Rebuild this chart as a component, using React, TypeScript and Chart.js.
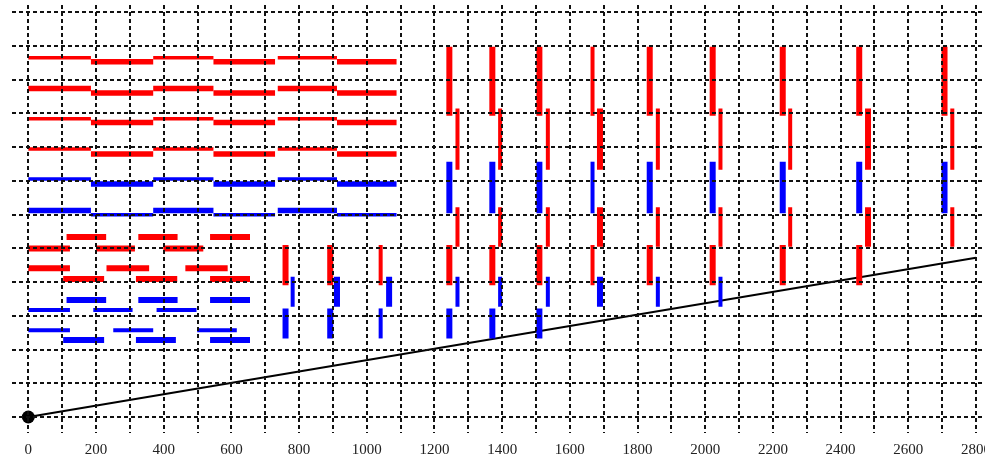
import React, { useEffect, useRef } from "react";
import { Chart, registerables } from "chart.js";

Chart.register(...registerables);

// ---------------- data ----------------
const xGridValues = [0, 100, 200, 300, 400, 500, 600, 700, 800, 900, 1000, 1100, 1200, 1300, 1400, 1500, 1600, 1700, 1800, 1900, 2000, 2100, 2200, 2300, 2400, 2500, 2600, 2700, 2800];
const yGridValues = [0, 1, 2, 3, 4, 5, 6, 7, 8, 9, 10, 11, 12];

// stepped rows (left block)
const stepHighSpans = [[0, 185], [369, 547], [737, 912]];
const stepLowSpans = [[185, 369], [547, 729], [912, 1088]];
const redStepHigh = [10.65, 9.74, 8.84, 7.95];
const redStepLow = [10.53, 9.61, 8.73, 7.8];
const blueStepHigh = [7.06, 6.12];
const blueStepLow = [6.91, 6.0];

// pulse rows (lower left)
const redPulseRows = [5.34, 5.0, 4.41, 4.09];
const redPulseSpans = [
  [[113, 230], [325, 441], [537, 655]],
  [[0, 123], [200, 315], [399, 517]],
  [[0, 123], [231, 357], [464, 589]],
  [[103, 224], [318, 440], [537, 655]],
];
const bluePulseRows = [3.47, 3.17, 2.57, 2.28];
const bluePulseSpans = [
  [[113, 230], [325, 441], [537, 655]],
  [[0, 123], [192, 308], [379, 497]],
  [[0, 123], [251, 369], [499, 616]],
  [[103, 224], [318, 436], [537, 655]],
];

// vertical bars: levels [from, to] and x positions
const barA = [8.93, 10.98];
const barB = [7.33, 9.15];
const barC = [6.04, 7.57];
const barD = [5.05, 6.22];
const barE = [3.91, 5.1];
const barF = [3.27, 4.16];
const barG = [2.33, 3.22];
const barAX = [1244, 1371, 1510, 1667, 1836, 2022, 2229, 2455, 2707];
const barBX = [1268, 1394, 1535, 1689, 1860, 2045, 2251, 2481, 2730];
const barCX = [1244, 1371, 1510, 1667, 1836, 2022, 2229, 2455, 2707];
const barDX = [1268, 1394, 1535, 1689, 1860, 2045, 2251, 2481, 2730];
const barEX = [760, 892, 1041, 1244, 1371, 1510, 1667, 1836, 2022, 2229, 2455];
const barFX = [781, 912, 1066, 1268, 1394, 1535, 1689, 1860, 2045];
const barGX = [760, 892, 1041, 1244, 1371, 1510];

// ramp line
const rampX = [0, 2800];
const rampY = [0, 4.72];

// ---------------- styles ----------------
const RED = "#ff0000";
const BLUE = "#0000ff";
const STEP_THIN = 3.5;
const STEP_THICK = 5.5;
const PULSE_THICK = 6;
const PULSE_THIN = 4;
const BAR_THICK = 6;
const BAR_THIN = 4;
// style lookups
const redStepWidths = [[STEP_THIN, STEP_THICK], [STEP_THICK, STEP_THICK], [STEP_THIN, STEP_THICK], [STEP_THIN, STEP_THICK]];
const blueStepWidths = [[STEP_THIN, STEP_THICK], [STEP_THICK, STEP_THIN]];
const bluePulseWidths = [PULSE_THICK, PULSE_THIN, PULSE_THIN, PULSE_THICK];
const thinLeftBars = [1041, 1667];
const thickRightBars = [912, 1066, 1689, 2481];

type P = { x: number; y: number | null };

function hPoints(spans: number[][], y: number): P[] {
  const out: P[] = [];
  spans.forEach(([a, b]) => {
    out.push({ x: a, y }, { x: b, y }, { x: b, y: null });
  });
  return out;
}

function vPoints(xs: number[], lv: number[]): P[] {
  const out: P[] = [];
  xs.forEach((x) => {
    out.push({ x, y: lv[0] }, { x, y: lv[1] }, { x, y: null });
  });
  return out;
}

function ds(data: P[], color: string, width: number) {
  return {
    type: "line" as const,
    data,
    borderColor: color,
    backgroundColor: color,
    borderWidth: width,
    pointRadius: 0,
    pointHoverRadius: 0,
    fill: false,
    spanGaps: false,
    tension: 0,
  };
}

function buildDatasets() {
  const sets: any[] = [];
  redStepHigh.forEach((y, i) => sets.push(ds(hPoints(stepHighSpans, y), RED, redStepWidths[i][0])));
  redStepLow.forEach((y, i) => sets.push(ds(hPoints(stepLowSpans, y), RED, redStepWidths[i][1])));
  blueStepHigh.forEach((y, i) => sets.push(ds(hPoints(stepHighSpans, y), BLUE, blueStepWidths[i][0])));
  blueStepLow.forEach((y, i) => sets.push(ds(hPoints(stepLowSpans, y), BLUE, blueStepWidths[i][1])));

  redPulseRows.forEach((y, i) => sets.push(ds(hPoints(redPulseSpans[i], y), RED, PULSE_THICK)));
  bluePulseRows.forEach((y, i) => sets.push(ds(hPoints(bluePulseSpans[i], y), BLUE, bluePulseWidths[i])));

  const leftBars: [number[], number[], string][] = [
    [barAX, barA, RED],
    [barCX, barC, BLUE],
    [barEX, barE, RED],
    [barGX, barG, BLUE],
  ];
  leftBars.forEach(([xs, lv, col]) => {
    const thick = xs.filter((x) => !thinLeftBars.includes(x));
    const thin = xs.filter((x) => thinLeftBars.includes(x));
    sets.push(ds(vPoints(thick, lv), col, BAR_THICK));
    if (thin.length) sets.push(ds(vPoints(thin, lv), col, BAR_THIN));
  });
  const rightBars: [number[], number[], string][] = [
    [barBX, barB, RED],
    [barDX, barD, RED],
    [barFX, barF, BLUE],
  ];
  rightBars.forEach(([xs, lv, col]) => {
    const thick = xs.filter((x) => thickRightBars.includes(x));
    const thin = xs.filter((x) => !thickRightBars.includes(x));
    if (thick.length) sets.push(ds(vPoints(thick, lv), col, BAR_THICK));
    sets.push(ds(vPoints(thin, lv), col, BAR_THIN));
  });

  sets.push({
    type: "line" as const,
    data: rampX.map((x, i) => ({ x, y: rampY[i] })),
    borderColor: "#000",
    backgroundColor: "#000",
    borderWidth: 2,
    pointRadius: rampX.map((_, i) => (i === 0 ? 6.5 : 0)),
    pointBorderWidth: 0,
    fill: false,
    tension: 0,
  });
  return sets;
}

const W = 985;
const H = 459;

export default function App() {
  const ref = useRef<HTMLCanvasElement | null>(null);

  useEffect(() => {
    if (!ref.current) return;
    const gridCommon = { color: "#111", lineWidth: 2, drawTicks: false, z: 1 };
    const borderCommon = { display: false, dash: [4, 3] };
    const chart = new Chart(ref.current, {
      type: "line",
      data: { datasets: buildDatasets() },
      options: {
        responsive: false,
        animation: false,
        events: [],
        layout: { autoPadding: false, padding: { top: 5, left: 12, right: 0, bottom: 0 } },
        plugins: { legend: { display: false }, tooltip: { enabled: false }, title: { display: false } },
        scales: {
          x: {
            type: "linear",
            min: -48.2,
            max: 2826.6,
            afterBuildTicks: (s: any) => {
              s.ticks = xGridValues.map((v) => ({ value: v }));
            },
            afterFit: (s: any) => {
              s.height = 26;
              s.paddingLeft = 0;
              s.paddingRight = 0;
            },
            ticks: {
              autoSkip: false,
              maxRotation: 0,
              minRotation: 0,
              padding: 8,
              color: "#222",
              font: { family: "'Liberation Serif', serif", size: 15 },
              callback: (v: any) => (Number(v) % 200 === 0 ? String(v) : ""),
            },
            grid: gridCommon,
            border: borderCommon,
          },
          y: {
            type: "linear",
            min: -0.474,
            max: 12.216,
            afterBuildTicks: (s: any) => {
              s.ticks = yGridValues.map((v) => ({ value: v }));
            },
            afterFit: (s: any) => {
              s.width = 0;
              s.paddingTop = 0;
              s.paddingBottom = 0;
            },
            ticks: { display: false },
            grid: gridCommon,
            border: borderCommon,
          },
        },
      } as any,
    });
    return () => chart.destroy();
  }, []);

  return (
    <div style={{ position: "absolute", left: 0, top: 0, width: W, height: H, background: "#fff" }}>
      <canvas ref={ref} width={W} height={H} style={{ display: "block", width: W, height: H }} />
    </div>
  );
}
